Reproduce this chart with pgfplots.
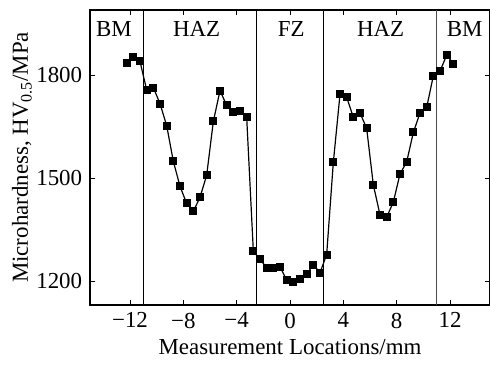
\documentclass[border=0pt]{standalone}
\usepackage{pgfplots}
\pgfplotsset{compat=1.18}
\usepackage{fontspec}
\setmainfont{Liberation Serif}
\begin{document}
\fontsize{23}{27}\selectfont
\begin{tikzpicture}
\begin{axis}[
  name=ax,
  scale only axis,
  width=400bp, height=295bp,
  xmin=-15, xmax=15, ymin=1130, ymax=1990,
  xtick={-12,-8,-4,0,4,8,12},
  xticklabels={−12,−8,−4,0,4,8,12},
  ytick={1200,1500,1800},
  yticklabels={1200,1500,1800},
  tick align=inside,
  major tick length=5bp,
  axis line style={line width=1.3bp},
  tick style={line width=0.9bp, black},
  tick label style={font=\fontsize{23}{27}\selectfont},
  xlabel={Measurement Locations/mm},
  ylabel={Microhardness, HV\textsubscript{0.5}/MPa},
  label style={font=\fontsize{23}{27}\selectfont},
  xlabel style={at={(axis description cs:0.5,-0.142)}, anchor=center},
  ylabel style={at={(axis description cs:-0.17,0.5)}, anchor=center},
  clip=false,
]
\addplot[black, line width=1.2bp, mark=square*, mark size=3.4bp, mark options={solid, fill=black}] coordinates {
(-12.25,1835) (-11.75,1852) (-11.25,1840) (-10.75,1757) (-10.25,1764)
(-9.75,1717) (-9.25,1653) (-8.75,1549) (-8.25,1476) (-7.75,1426)
(-7.25,1403) (-6.75,1444) (-6.25,1508) (-5.75,1665) (-5.25,1755)
(-4.75,1712) (-4.25,1692) (-3.75,1696) (-3.25,1678) (-2.75,1287)
(-2.25,1263) (-1.75,1239) (-1.25,1237) (-0.75,1242) (-0.25,1202)
(0.25,1197) (0.75,1205) (1.25,1219) (1.75,1248) (2.25,1224)
(2.75,1277) (3.25,1546) (3.75,1744) (4.25,1736) (4.75,1677)
(5.25,1690) (5.75,1645) (6.25,1480) (6.75,1393) (7.25,1386)
(7.75,1430) (8.25,1512) (8.75,1547) (9.25,1633) (9.75,1690)
(10.25,1706) (10.75,1798) (11.25,1812) (11.75,1858) (12.25,1834)
};
\addplot[black, line width=0.9bp, mark=none] coordinates {(-11,1130) (-11,1990)};
\addplot[black, line width=0.9bp, mark=none] coordinates {(-2.5,1130) (-2.5,1990)};
\addplot[black, line width=0.9bp, mark=none] coordinates {(2.5,1130) (2.5,1990)};
\addplot[black!70, line width=0.9bp, mark=none] coordinates {(11,1130) (11,1990)};
\node at (axis cs:-13.2,1935) {BM};
\node at (axis cs:-7,1935) {HAZ};
\node at (axis cs:0.1,1935) {FZ};
\node at (axis cs:6.8,1935) {HAZ};
\node at (axis cs:13.1,1935) {BM};
\end{axis}
\pgfresetboundingbox
\path[use as bounding box] ([xshift=-90bp,yshift=-60bp]ax.south west) rectangle ([yshift=10bp]ax.north east);
\end{tikzpicture}
\end{document}
